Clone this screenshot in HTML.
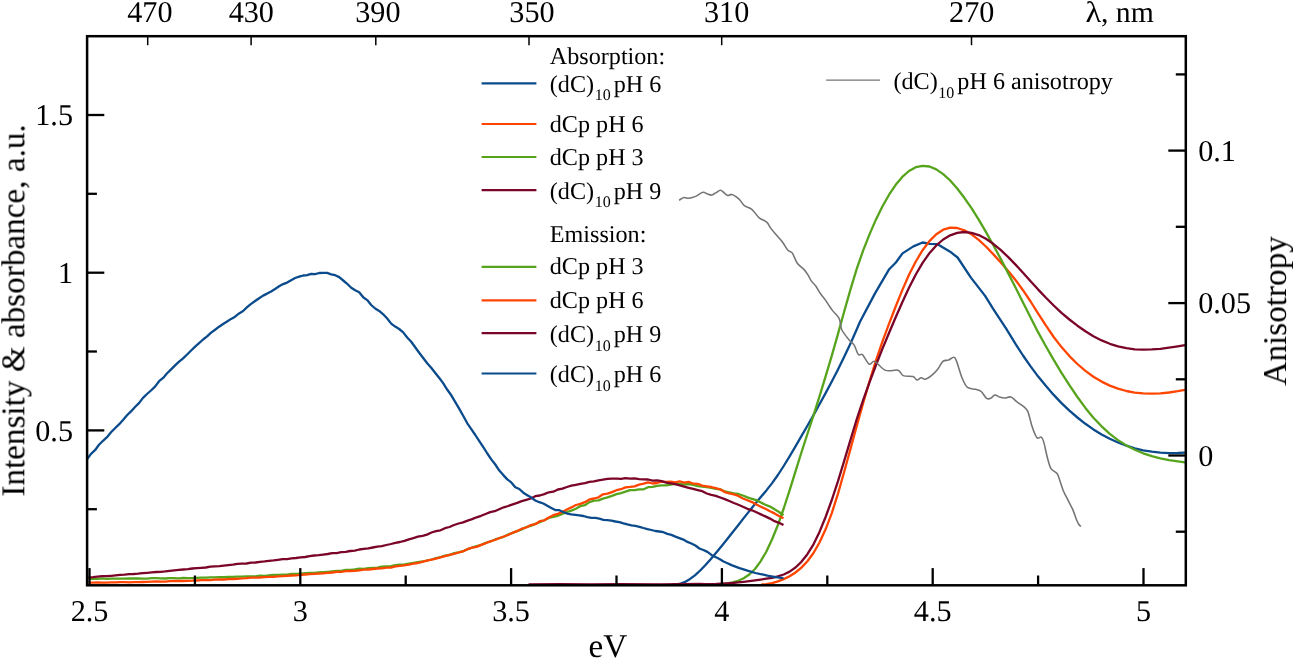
<!DOCTYPE html>
<html><head><meta charset="utf-8"><title>Spectra</title>
<style>
html,body{margin:0;padding:0;background:#fff;}
body{width:1293px;height:659px;overflow:hidden;}
svg{display:block;font-family:"Liberation Serif",serif;-webkit-font-smoothing:antialiased;text-rendering:geometricPrecision;}
.c{fill:none;stroke-linejoin:round;stroke-linecap:butt;}
.tl{font-size:30.2px;fill:#000;}
.at{font-size:33.2px;fill:#000;}
.lg{font-size:24.15px;fill:#000;}
.sub{font-size:16px;}
</style></head><body>
<svg width="1293" height="659" viewBox="0 0 1293 659">
<defs><filter id="nf" filterUnits="userSpaceOnUse" x="0" y="0" width="1293" height="659" color-interpolation-filters="sRGB"><feOffset dx="0" dy="0"/></filter></defs>
<rect x="0" y="0" width="1293" height="659" fill="#fff"/>
<g class="c" stroke-width="2.3">
<path d="M672.0 584.3L674.1 584.5L679.3 584.0L684.5 582.2L689.7 579.2L694.9 575.3L700.2 570.5L705.5 565.0L710.9 558.9L716.3 552.6L721.7 546.0L727.1 539.2L732.6 532.2L738.2 525.2L743.7 518.1L749.3 511.1L755.0 504.1L760.6 497.3L766.4 490.4L772.1 483.1L777.9 475.0L783.7 466.0L789.6 456.4L795.5 446.4L801.4 436.1L807.4 425.7L813.5 415.1L819.5 404.2L825.6 393.1L831.8 381.5L838.0 369.4L844.2 356.8L850.5 343.4L856.8 329.2L860.0 321.8L875.0 293.4L889.2 269.2L895.9 262.5L902.5 253.4L913.4 246.4L922.6 242.5L930.1 243.9L937.6 244.2L950.1 251.7L957.6 257.5L970.9 277.6L985.1 295.9L993.5 309.3L1006.8 329.6L1008.0 331.7L1015.5 343.9L1023.0 355.5L1030.6 366.4L1038.2 376.6L1046.0 386.1L1053.7 394.9L1061.5 403.1L1069.4 410.7L1077.4 417.5L1085.4 423.8L1093.4 429.4L1101.6 434.4L1109.8 438.7L1118.0 442.5L1126.4 445.7L1134.8 448.3L1143.2 450.3L1151.8 451.7L1160.4 452.7L1169.0 453.1L1177.8 453.0L1185.0 452.6" stroke="#0b4b8c"/>
<path d="M761.5 584.4L766.4 584.1L772.1 583.1L777.9 581.4L783.7 579.1L789.6 576.2L795.5 572.5L801.4 567.6L807.4 561.2L813.5 553.0L819.5 542.5L825.6 529.3L831.8 513.1L838.0 493.6L844.2 471.8L850.5 448.9L856.8 425.8L863.2 403.0L869.6 381.0L876.0 360.3L882.5 341.4L889.1 323.6L895.7 306.5L902.3 290.1L909.0 274.8L915.8 261.5L922.6 250.2L929.4 241.1L936.3 234.2L943.2 229.7L950.2 227.7L957.2 228.0L964.3 230.3L971.5 234.3L978.7 239.8L985.9 246.5L993.2 254.1L1000.6 262.2L1008.0 270.7L1015.5 280.0L1023.0 290.2L1030.6 301.5L1038.2 313.6L1046.0 325.7L1053.7 337.0L1061.5 347.1L1069.4 356.1L1077.4 364.0L1085.4 370.9L1093.4 376.7L1101.6 381.6L1109.8 385.6L1118.0 388.7L1126.4 391.0L1134.8 392.6L1143.2 393.4L1151.8 393.7L1160.4 393.3L1169.0 392.5L1177.8 391.2L1185.0 389.9" stroke="#ff4500"/>
<path d="M718.0 584.4L721.7 584.0L727.1 583.3L732.6 582.4L738.2 580.8L743.7 578.3L749.3 574.5L755.0 569.0L760.6 561.4L766.4 551.5L772.1 539.3L777.9 525.0L783.7 508.5L789.6 490.3L795.5 471.4L801.4 452.5L807.4 434.0L813.5 415.4L819.5 396.4L825.6 376.4L831.8 355.6L838.0 333.9L844.2 311.5L850.5 289.4L856.8 268.7L863.2 250.4L869.6 234.1L876.0 219.4L882.5 206.2L889.1 194.7L895.7 184.8L902.3 176.9L909.0 171.0L915.8 167.2L922.6 165.8L929.4 166.5L936.3 169.4L943.2 174.1L950.2 180.5L957.2 188.5L964.3 197.8L971.5 208.2L978.7 219.6L985.9 231.9L993.2 245.0L1000.6 258.6L1008.0 272.9L1015.5 287.5L1023.0 302.4L1030.6 317.5L1038.2 332.4L1046.0 346.5L1053.7 359.9L1061.5 372.8L1069.4 385.2L1077.4 397.0L1085.4 407.9L1093.4 417.7L1101.6 426.3L1109.8 433.8L1118.0 440.1L1126.4 445.4L1134.8 449.7L1143.2 453.3L1151.8 456.1L1160.4 458.3L1169.0 460.1L1177.8 461.4L1185.0 462.4" stroke="#56a31c"/>
<path d="M528.5 584.3L560.0 584.2L590.0 584.4L620.0 584.2L660.0 584.3L700.0 584.0L700.2 584.0L705.5 584.1L710.9 584.1L716.3 584.0L721.7 583.7L727.1 583.4L732.6 583.0L738.2 582.4L743.7 581.8L749.3 581.1L755.0 580.4L760.6 579.6L766.4 578.7L772.1 577.8L777.9 576.4L783.7 574.5L789.6 571.6L795.5 567.5L801.4 561.8L807.4 554.2L813.5 544.3L819.5 531.9L825.6 517.0L831.8 500.0L838.0 481.2L844.2 460.9L850.5 439.8L856.8 419.0L863.2 399.9L869.6 382.1L876.0 365.0L882.5 348.6L889.1 332.7L895.7 317.3L902.3 302.2L909.0 287.8L915.8 274.5L922.6 262.9L929.4 253.2L936.3 245.4L943.2 239.5L950.2 235.3L957.2 232.8L964.3 232.0L971.5 232.8L978.7 235.1L985.9 238.8L993.2 243.8L1000.6 249.9L1008.0 256.9L1015.5 264.6L1023.0 272.7L1030.6 281.2L1038.2 289.6L1046.0 297.8L1053.7 305.5L1061.5 312.8L1069.4 319.5L1077.4 325.7L1085.4 331.3L1093.4 336.2L1101.6 340.4L1109.8 343.8L1118.0 346.4L1126.4 348.2L1134.8 349.3L1143.2 349.6L1151.8 349.4L1160.4 348.8L1169.0 347.7L1177.8 346.4L1185.0 345.2" stroke="#7a0528"/>
<path d="M88.5 578.9L93.0 578.8L97.5 578.8L102.0 578.4L106.6 578.8L111.1 578.7L115.6 578.6L120.1 578.7L124.6 578.7L129.1 578.5L133.6 578.5L138.1 578.5L142.7 578.6L147.2 578.6L151.7 578.2L156.2 578.2L160.7 578.4L165.2 578.5L169.7 578.2L174.2 578.1L178.8 578.3L183.3 578.0L187.8 578.1L192.3 578.1L196.8 577.9L201.3 577.7L205.8 577.7L210.4 577.4L214.9 577.4L219.4 577.2L223.9 577.1L228.4 577.0L232.9 576.9L237.4 576.7L241.9 576.6L246.5 576.4L251.0 576.3L255.5 576.3L260.0 575.6L264.5 575.9L269.0 575.4L273.5 575.0L278.0 575.0L282.6 574.7L287.1 574.6L291.6 574.0L296.1 574.0L300.6 573.6L305.1 573.1L309.6 572.8L314.1 572.8L318.7 572.5L323.2 572.2L327.7 571.8L332.2 571.4L336.7 571.0L341.2 570.8L345.7 570.0L350.3 569.8L354.8 569.5L359.3 568.7L363.8 568.8L368.3 568.1L372.8 567.8L377.3 567.7L381.8 566.7L386.4 566.3L390.9 566.2L395.4 565.2L399.9 564.7L404.4 564.3L408.9 563.6L413.4 562.9L417.9 562.1L422.5 561.5L427.0 560.5L431.5 559.5L436.0 558.2L440.5 557.1L445.0 555.6L449.5 555.0L454.1 553.1L458.6 552.4L463.1 551.2L467.6 549.1L472.1 547.7L476.6 546.2L481.1 545.0L485.6 542.9L490.2 541.5L494.7 539.7L499.2 538.1L503.7 536.8L508.2 534.4L512.7 532.9L517.2 531.1L521.7 529.5L526.3 527.0L530.8 525.9L535.3 523.9L539.8 522.2L544.3 520.2L548.8 518.0L553.3 516.8L557.9 515.8L562.4 513.9L566.9 512.0L571.4 510.6L575.9 508.8L580.4 506.1L584.9 505.2L589.4 502.1L594.0 500.7L598.5 500.4L603.0 498.6L607.5 497.4L612.0 495.8L616.5 494.1L621.0 493.1L625.5 491.7L630.1 490.2L634.6 490.2L639.1 489.4L643.6 489.3L648.1 487.2L652.6 486.9L657.1 485.9L661.6 485.3L666.2 485.4L670.7 484.5L675.2 483.9L679.7 484.1L684.2 484.5L688.7 484.0L693.2 484.8L697.8 486.1L702.3 486.6L706.8 487.0L711.3 487.8L715.8 488.9L720.3 489.4L724.8 491.5L729.3 492.3L733.9 493.4L738.4 494.0L742.9 495.5L747.4 497.4L751.9 498.8L756.4 500.2L760.9 502.5L765.4 504.8L770.0 506.6L774.5 509.3L779.0 512.0L783.5 515.2" stroke="#56a31c"/>
<path d="M88.5 582.6L93.0 582.6L97.5 582.5L102.0 582.6L106.6 582.6L111.1 582.3L115.6 582.3L120.1 582.2L124.6 582.1L129.1 582.4L133.6 582.1L138.1 582.1L142.7 582.0L147.2 581.9L151.7 581.6L156.2 581.5L160.7 581.6L165.2 581.6L169.7 581.1L174.2 581.0L178.8 581.0L183.3 581.0L187.8 580.8L192.3 580.7L196.8 580.5L201.3 580.1L205.8 580.1L210.4 580.1L214.9 579.7L219.4 579.3L223.9 579.5L228.4 579.2L232.9 579.0L237.4 578.9L241.9 578.4L246.5 578.1L251.0 577.6L255.5 577.7L260.0 577.5L264.5 577.2L269.0 576.9L273.5 576.8L278.0 576.4L282.6 576.2L287.1 575.8L291.6 575.5L296.1 575.4L300.6 574.9L305.1 574.5L309.6 574.1L314.1 573.9L318.7 573.6L323.2 573.3L327.7 572.9L332.2 572.5L336.7 571.9L341.2 571.9L345.7 571.2L350.3 571.0L354.8 570.8L359.3 570.3L363.8 569.7L368.3 569.5L372.8 569.0L377.3 568.5L381.8 568.3L386.4 567.7L390.9 567.6L395.4 566.3L399.9 565.9L404.4 565.3L408.9 564.7L413.4 563.6L417.9 563.0L422.5 561.8L427.0 560.6L431.5 559.7L436.0 558.6L440.5 557.4L445.0 556.1L449.5 554.9L454.1 553.9L458.6 552.5L463.1 551.3L467.6 549.2L472.1 547.7L476.6 546.9L481.1 544.9L485.6 543.3L490.2 541.4L494.7 540.0L499.2 538.2L503.7 536.5L508.2 535.0L512.7 532.7L517.2 531.1L521.7 528.7L526.3 527.5L530.8 525.1L535.3 524.2L539.8 521.2L544.3 520.3L548.8 517.5L553.3 515.2L557.9 513.9L562.4 511.9L566.9 509.5L571.4 507.4L575.9 505.0L580.4 503.9L584.9 502.2L589.4 499.4L594.0 498.5L598.5 497.3L603.0 494.3L607.5 493.6L612.0 492.1L616.5 490.2L621.0 489.2L625.5 487.4L630.1 486.9L634.6 486.3L639.1 484.6L643.6 483.7L648.1 482.4L652.6 483.5L657.1 483.0L661.6 481.7L666.2 481.8L670.7 481.6L675.2 482.3L679.7 481.3L684.2 482.6L688.7 481.8L693.2 483.7L697.8 483.9L702.3 485.6L706.8 486.3L711.3 487.0L715.8 488.2L720.3 489.4L724.8 492.1L729.3 493.4L733.9 494.4L738.4 495.9L742.9 498.5L747.4 500.3L751.9 502.1L756.4 504.5L760.9 506.8L765.4 508.8L770.0 511.3L774.5 513.4L779.0 515.9L783.5 518.2" stroke="#ff4500"/>
<path d="M88.5 577.3L93.0 577.1L97.5 576.7L102.0 576.2L106.6 576.2L111.1 575.8L115.6 575.4L120.1 574.9L124.6 574.7L129.1 574.2L133.6 574.0L138.1 573.7L142.7 573.2L147.2 572.8L151.7 572.4L156.2 572.0L160.7 571.8L165.2 571.4L169.7 570.8L174.2 570.4L178.8 569.9L183.3 569.5L187.8 569.1L192.3 568.5L196.8 568.2L201.3 567.9L205.8 567.5L210.4 566.7L214.9 566.4L219.4 566.2L223.9 565.6L228.4 565.1L232.9 564.7L237.4 563.9L241.9 563.7L246.5 563.5L251.0 562.7L255.5 562.5L260.0 561.8L264.5 561.4L269.0 560.8L273.5 560.4L278.0 559.8L282.6 559.1L287.1 559.1L291.6 558.3L296.1 558.0L300.6 557.4L305.1 557.0L309.6 556.1L314.1 555.5L318.7 555.1L323.2 554.6L327.7 554.0L332.2 553.2L336.7 553.1L341.2 552.2L345.7 551.9L350.3 551.0L354.8 550.6L359.3 549.5L363.8 548.9L368.3 548.3L372.8 547.5L377.3 546.6L381.8 546.1L386.4 545.0L390.9 544.0L395.4 542.8L399.9 542.0L404.4 540.8L408.9 539.3L413.4 538.1L417.9 536.7L422.5 535.8L427.0 534.6L431.5 532.5L436.0 531.1L440.5 530.3L445.0 528.2L449.5 527.0L454.1 525.0L458.6 523.5L463.1 522.3L467.6 520.6L472.1 519.1L476.6 517.3L481.1 515.8L485.6 514.0L490.2 512.1L494.7 511.2L499.2 509.2L503.7 507.3L508.2 506.0L512.7 504.3L517.2 502.8L521.7 501.1L526.3 499.8L530.8 498.5L535.3 496.2L539.8 495.5L544.3 494.1L548.8 492.3L553.3 491.7L557.9 489.5L562.4 488.6L566.9 487.0L571.4 485.7L575.9 484.8L580.4 483.9L584.9 483.2L589.4 481.9L594.0 481.4L598.5 480.4L603.0 479.7L607.5 478.9L612.0 478.6L616.5 478.6L621.0 478.9L625.5 478.1L630.1 478.7L634.6 478.3L639.1 479.1L643.6 479.3L648.1 479.5L652.6 480.6L657.1 480.4L661.6 481.2L666.2 482.7L670.7 483.3L675.2 484.1L679.7 485.3L684.2 486.6L688.7 487.8L693.2 488.9L697.8 490.1L702.3 491.2L706.8 493.5L711.3 494.9L715.8 495.8L720.3 497.5L724.8 499.1L729.3 501.0L733.9 503.0L738.4 504.8L742.9 506.7L747.4 508.8L751.9 510.3L756.4 512.3L760.9 514.4L765.4 516.4L770.0 518.6L774.5 521.2L779.0 522.8L783.5 525.1" stroke="#7a0528"/>
<path d="M87.0 459.2L91.0 453.9L95.0 450.2L99.0 444.8L103.0 440.8L107.0 437.2L111.0 432.3L115.0 428.3L119.0 424.4L123.0 420.0L127.0 415.3L131.0 411.4L135.0 407.0L139.0 403.1L143.0 397.9L147.0 394.0L151.0 390.5L155.0 386.6L159.1 381.2L163.1 377.9L167.1 373.3L171.1 369.4L175.1 365.4L179.1 361.7L183.1 358.4L187.1 354.5L191.1 350.5L195.1 346.6L199.1 343.1L203.1 339.5L207.1 336.4L211.1 332.6L215.1 329.7L219.1 326.7L223.1 324.0L227.1 321.5L231.1 318.9L235.1 316.7L239.1 313.4L243.1 311.0L247.1 307.2L251.1 303.9L255.1 301.0L259.1 298.2L263.1 295.6L267.1 293.6L271.1 291.4L275.1 288.9L279.1 286.3L283.1 284.1L287.1 282.6L291.1 280.2L295.1 278.0L299.2 276.7L303.2 275.5L307.2 275.2L311.2 273.8L315.2 274.1L319.2 273.0L323.2 272.8L327.2 272.9L331.2 274.3L335.2 275.2L339.2 277.1L343.2 280.5L347.2 283.8L351.2 287.7L355.2 290.2L359.2 292.2L363.2 297.3L367.2 300.1L371.2 305.0L375.2 308.5L379.2 310.9L383.2 314.3L387.2 318.5L391.2 323.6L395.2 326.6L399.2 329.0L403.2 332.4L407.2 337.5L411.2 341.8L415.2 347.3L419.2 352.7L423.2 358.0L427.2 363.2L431.2 367.7L435.3 373.0L439.3 378.0L443.3 383.4L447.3 389.8L451.3 395.3L455.3 402.1L459.3 408.9L463.3 416.0L467.3 423.3L471.3 429.1L475.3 435.0L479.3 441.2L483.3 447.2L487.3 453.5L491.3 459.4L495.3 464.5L499.3 470.6L503.3 475.1L507.3 479.4L511.3 482.4L515.3 487.2L519.3 489.0L523.3 492.7L527.3 495.2L531.3 497.6L535.3 500.5L539.3 502.2L543.3 503.5L547.3 505.8L551.3 508.0L555.3 510.1L559.3 510.2L563.3 512.0L567.3 513.6L571.3 514.3L575.4 514.9L579.4 515.4L583.4 516.0L587.4 517.1L591.4 517.8L595.4 517.9L599.4 518.6L603.4 519.8L607.4 520.2L611.4 520.7L615.4 521.5L619.4 522.1L623.4 523.3L627.4 524.4L631.4 525.4L635.4 525.9L639.4 526.8L643.4 528.0L647.4 529.1L651.4 530.0L655.4 531.0L659.4 531.5L663.4 532.2L667.4 533.9L671.4 534.9L675.4 536.6L679.4 538.1L683.4 539.6L687.4 541.9L691.4 543.5L695.4 545.5L699.4 548.5L703.4 550.0L707.4 551.9L711.4 554.9L715.5 557.0L719.5 559.1L723.5 561.5L727.5 563.2L731.5 565.1L735.5 566.6L739.5 568.1L743.5 569.3L747.5 570.7L751.5 571.8L755.5 573.0L759.5 573.9L763.5 574.7L767.5 575.7L771.5 576.3L775.5 577.2L779.5 577.7L783.5 578.1" stroke="#0b4b8c"/>
</g>
<path class="c" d="M679.1 200.2C679.9 199.8 682.3 197.9 683.8 197.6C685.3 197.3 686.7 198.3 688.1 198.3C689.5 198.3 690.9 198.0 692.3 197.6C693.7 197.2 694.8 196.8 696.6 195.9C698.4 195.0 701.1 192.7 702.9 192.3C704.7 192.0 705.8 193.3 707.2 193.8C708.6 194.3 710.0 195.2 711.4 195.1C712.8 194.9 714.2 193.7 715.7 192.9C717.2 192.1 719.0 190.2 720.4 190.2C721.8 190.2 723.0 192.0 724.2 192.9C725.4 193.8 726.6 195.2 727.8 195.5C729.0 195.8 730.2 194.2 731.6 194.4C733.0 194.6 734.5 195.6 735.9 196.6C737.3 197.6 738.7 198.7 740.1 200.2C741.5 201.7 742.5 204.2 744.4 205.7C746.3 207.2 749.3 207.3 751.8 209.3C754.3 211.3 756.7 215.7 759.2 217.8C761.7 219.9 764.8 220.3 766.7 222.1C768.7 223.9 769.3 226.3 770.9 228.4C772.5 230.5 774.2 232.5 776.2 234.8C778.2 237.1 780.7 239.6 782.6 242.2C784.5 244.8 786.3 248.5 787.9 250.3C789.5 252.1 790.6 250.7 792.2 252.9C793.8 255.1 795.5 260.8 797.5 263.5C799.5 266.2 802.1 267.4 803.9 269.4C805.7 271.3 806.9 273.3 808.1 275.2C809.3 277.1 810.0 279.1 811.3 280.9C812.5 282.7 814.0 283.6 815.6 285.8C817.2 288.0 819.3 292.0 820.9 294.3C822.5 296.6 823.2 296.9 825.1 299.6C827.0 302.3 830.0 307.2 832.4 310.4C834.8 313.6 837.6 315.3 839.2 318.6C840.8 321.9 840.1 326.3 841.9 330.0C843.7 333.7 848.0 338.5 850.1 341.0C852.2 343.5 852.8 342.8 854.2 345.1C855.6 347.4 856.9 353.0 858.3 354.6C859.7 356.2 860.6 353.0 862.4 354.6C864.2 356.2 867.2 363.1 869.2 364.2C871.2 365.3 872.0 360.4 874.7 361.4C877.4 362.4 881.7 368.9 885.6 370.4C889.5 371.9 895.0 369.3 897.9 370.2C900.8 371.1 900.8 374.6 903.3 375.6C905.8 376.7 910.6 375.8 912.9 376.5C915.2 377.2 915.6 379.8 917.0 380.0C918.4 380.2 919.7 377.9 921.1 377.8C922.5 377.7 923.4 379.6 925.2 379.2C927.0 378.8 930.0 376.7 932.0 375.1C934.0 373.5 935.7 371.9 937.5 369.6C939.3 367.3 941.1 363.0 942.9 361.4C944.7 359.8 946.6 360.8 948.4 360.1C950.2 359.4 952.5 357.1 953.9 357.3C955.3 357.5 955.2 358.0 956.6 361.4C958.0 364.8 960.2 373.5 962.0 377.8C963.8 382.1 965.2 385.5 967.5 387.4C969.8 389.3 973.4 388.6 975.7 389.3C978.0 390.0 979.4 390.0 981.2 391.5C983.0 393.0 985.0 397.2 986.6 398.3C988.2 399.4 989.3 398.9 990.7 398.3C992.1 397.8 993.2 395.2 994.8 395.0C996.3 394.8 998.3 396.7 1000.0 397.2C1001.7 397.7 1003.1 398.0 1004.9 398.0C1006.7 398.0 1008.9 396.4 1010.9 397.0C1012.9 397.6 1014.8 400.2 1017.0 401.9C1019.2 403.6 1022.5 405.6 1024.3 407.2C1026.1 408.8 1026.7 408.7 1027.9 411.6C1029.1 414.6 1030.4 421.1 1031.6 424.9C1032.8 428.7 1034.2 432.4 1035.2 434.6C1036.2 436.8 1036.6 437.9 1037.6 438.3C1038.6 438.7 1040.3 436.5 1041.3 437.1C1042.3 437.7 1042.7 438.5 1043.7 441.9C1044.7 445.3 1046.2 453.2 1047.4 457.7C1048.6 462.2 1049.4 466.1 1051.0 468.7C1052.6 471.3 1055.7 471.7 1057.1 473.5C1058.5 475.3 1058.5 476.8 1059.5 479.6C1060.5 482.4 1061.8 487.1 1063.2 490.5C1064.6 493.9 1066.4 497.0 1068.0 500.2C1069.6 503.4 1071.5 506.6 1072.9 509.9C1074.3 513.1 1075.5 517.3 1076.5 519.7C1077.5 522.1 1078.2 523.4 1078.9 524.5C1079.6 525.6 1080.6 526.2 1080.9 526.5" stroke="#747474" stroke-width="1.55"/>
<rect x="87.1" y="36.2" width="1098.7" height="549.1" fill="none" stroke="#000" stroke-width="2.5"/>
<g stroke="#000" fill="none">
<line x1="89.5" y1="585.3" x2="89.5" y2="568.1" stroke-width="2.3"/>
<line x1="194.9" y1="585.3" x2="194.9" y2="575.5" stroke-width="2.3"/>
<line x1="300.3" y1="585.3" x2="300.3" y2="568.1" stroke-width="2.3"/>
<line x1="405.7" y1="585.3" x2="405.7" y2="575.5" stroke-width="2.3"/>
<line x1="511.1" y1="585.3" x2="511.1" y2="568.1" stroke-width="2.3"/>
<line x1="616.5" y1="585.3" x2="616.5" y2="575.5" stroke-width="2.3"/>
<line x1="721.9" y1="585.3" x2="721.9" y2="568.1" stroke-width="2.3"/>
<line x1="827.3" y1="585.3" x2="827.3" y2="575.5" stroke-width="2.3"/>
<line x1="932.7" y1="585.3" x2="932.7" y2="568.1" stroke-width="2.3"/>
<line x1="1038.1" y1="585.3" x2="1038.1" y2="575.5" stroke-width="2.3"/>
<line x1="1143.5" y1="585.3" x2="1143.5" y2="568.1" stroke-width="2.3"/>
<line x1="147.7" y1="36.2" x2="147.7" y2="45.2" stroke-width="1.5"/>
<line x1="251.1" y1="36.2" x2="251.1" y2="45.2" stroke-width="1.5"/>
<line x1="375.8" y1="36.2" x2="375.8" y2="45.2" stroke-width="1.5"/>
<line x1="529.0" y1="36.2" x2="529.0" y2="45.2" stroke-width="1.5"/>
<line x1="721.7" y1="36.2" x2="721.7" y2="45.2" stroke-width="1.5"/>
<line x1="971.5" y1="36.2" x2="971.5" y2="45.2" stroke-width="1.5"/>
<line x1="87.1" y1="509.2" x2="96.9" y2="509.2" stroke-width="2.3"/>
<line x1="87.1" y1="430.4" x2="104.3" y2="430.4" stroke-width="2.3"/>
<line x1="87.1" y1="351.5" x2="96.9" y2="351.5" stroke-width="2.3"/>
<line x1="87.1" y1="272.7" x2="104.3" y2="272.7" stroke-width="2.3"/>
<line x1="87.1" y1="193.8" x2="96.9" y2="193.8" stroke-width="2.3"/>
<line x1="87.1" y1="115.0" x2="104.3" y2="115.0" stroke-width="2.3"/>
<line x1="1185.8" y1="531.7" x2="1175.8" y2="531.7" stroke-width="2.3"/>
<line x1="1185.8" y1="455.5" x2="1168.3" y2="455.5" stroke-width="2.3"/>
<line x1="1185.8" y1="379.3" x2="1175.8" y2="379.3" stroke-width="2.3"/>
<line x1="1185.8" y1="303.1" x2="1168.3" y2="303.1" stroke-width="2.3"/>
<line x1="1185.8" y1="226.8" x2="1175.8" y2="226.8" stroke-width="2.3"/>
<line x1="1185.8" y1="150.6" x2="1168.3" y2="150.6" stroke-width="2.3"/>
<line x1="1185.8" y1="74.4" x2="1175.8" y2="74.4" stroke-width="2.3"/>
</g>
<g class="tl" filter="url(#nf)">
<text x="89.5" y="620.8" text-anchor="middle">2.5</text>
<text x="300.3" y="620.8" text-anchor="middle">3</text>
<text x="511.1" y="620.8" text-anchor="middle">3.5</text>
<text x="721.9" y="620.8" text-anchor="middle">4</text>
<text x="932.7" y="620.8" text-anchor="middle">4.5</text>
<text x="1143.5" y="620.8" text-anchor="middle">5</text>
<text x="149.9" y="21.9" text-anchor="middle">470</text>
<text x="251.3" y="21.9" text-anchor="middle">430</text>
<text x="377.9" y="21.9" text-anchor="middle">390</text>
<text x="532.0" y="21.9" text-anchor="middle">350</text>
<text x="726.6" y="21.9" text-anchor="middle">310</text>
<text x="971.7" y="21.9" text-anchor="middle">270</text>
<text x="1085.6" y="22.2" font-size="29.7" textLength="15.8" lengthAdjust="spacingAndGlyphs">λ</text>
<text x="1101.0" y="22.2" font-size="29.7">, nm</text>
<text x="73" y="440.7" text-anchor="end">0.5</text>
<text x="73" y="283.0" text-anchor="end">1</text>
<text x="73" y="125.3" text-anchor="end">1.5</text>
<text x="1198.2" y="465.8">0</text>
<text x="1198.2" y="313.4">0.05</text>
<text x="1198.2" y="160.9">0.1</text>
</g>
<g class="at" filter="url(#nf)">
<text x="588.5" y="657.4">eV</text>
<text transform="translate(24.3 496.6) rotate(-90)">Intensity &amp; absorbance, a.u.</text>
<text transform="translate(1286 385.5) rotate(-90)">Anisotropy</text>
</g>
<g class="lg" filter="url(#nf)">
<text x="549.8" y="64.1">Absorption:</text>
<text x="549.8" y="91.5">(dC)<tspan class="sub" dx="0.6" dy="8.6">10</tspan><tspan dx="3" dy="-8.6">pH 6</tspan></text>
<text x="549.8" y="131.7">dCp pH 6</text>
<text x="549.8" y="164.5">dCp pH 3</text>
<text x="549.8" y="198.6">(dC)<tspan class="sub" dx="0.6" dy="8.6">10</tspan><tspan dx="3" dy="-8.6">pH 9</tspan></text>
<text x="549.8" y="241.7">Emission:</text>
<text x="549.8" y="274">dCp pH 3</text>
<text x="549.8" y="308">dCp pH 6</text>
<text x="549.8" y="342.1">(dC)<tspan class="sub" dx="0.6" dy="8.6">10</tspan><tspan dx="3" dy="-8.6">pH 9</tspan></text>
<text x="549.8" y="382.1">(dC)<tspan class="sub" dx="0.6" dy="8.6">10</tspan><tspan dx="3" dy="-8.6">pH 6</tspan></text>
<text x="893.5" y="89.2">(dC)<tspan class="sub" dx="0.6" dy="8.6">10</tspan><tspan dx="3" dy="-8.6">pH 6 anisotropy</tspan></text>
</g>
<g fill="none" stroke-width="2.2">
<line x1="481.6" y1="83.3" x2="536.4" y2="83.3" stroke="#0b4b8c"/>
<line x1="481.6" y1="124.0" x2="536.4" y2="124.0" stroke="#ff4500"/>
<line x1="481.6" y1="157.0" x2="536.4" y2="157.0" stroke="#56a31c"/>
<line x1="481.6" y1="190.1" x2="536.4" y2="190.1" stroke="#7a0528"/>
<line x1="481.6" y1="266.8" x2="536.4" y2="266.8" stroke="#56a31c"/>
<line x1="481.6" y1="300.3" x2="536.4" y2="300.3" stroke="#ff4500"/>
<line x1="481.6" y1="333.1" x2="536.4" y2="333.1" stroke="#7a0528"/>
<line x1="481.6" y1="373.5" x2="536.4" y2="373.5" stroke="#0b4b8c"/>
<line x1="826.1" y1="80.2" x2="880" y2="80.2" stroke="#747474" stroke-width="1.3"/>
</g>
</svg></body></html>
